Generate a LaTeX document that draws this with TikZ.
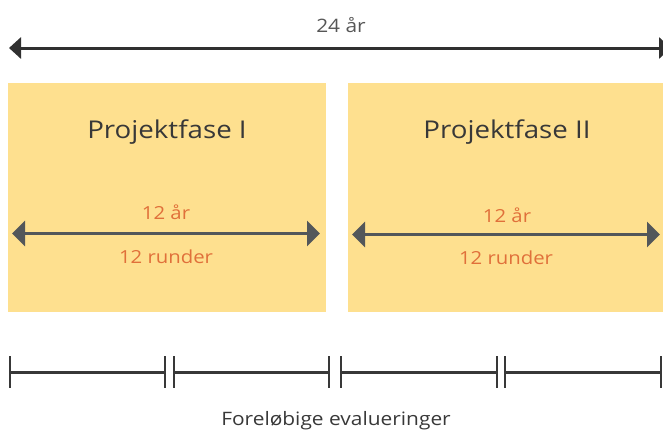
\documentclass[tikz,border=0pt]{standalone}
\usepackage{fontspec}
\setmainfont{Open Sans}[FakeStretch=1.13]
\usetikzlibrary{arrows.meta}
\definecolor{boxfill}{HTML}{FEE08F}
\definecolor{orangetxt}{HTML}{E0703A}
\definecolor{darktxt}{HTML}{383838}
\definecolor{arrowgray}{HTML}{53575A}
\definecolor{topgray}{HTML}{303030}
\tikzset{
  phasebox/.style={fill=boxfill,draw=none,minimum width=318pt,minimum height=229pt,inner sep=0pt,anchor=north west},
  phasetitle/.style={font=\fontsize{24.5}{28}\selectfont,text=darktxt,anchor=base,inner sep=0pt},
  orangelabel/.style={font=\fontsize{18}{22}\selectfont,text=orangetxt,anchor=base,inner sep=0pt},
  toplabel/.style={font=\fontsize{18.5}{24}\selectfont,text=darktxt!85,anchor=base,inner sep=0pt},
  spanarrow/.style={line width=3pt,draw=arrowgray,{Triangle[length=13pt,width=25pt]}-{Triangle[length=13pt,width=25pt]}},
  toparrow/.style={line width=3pt,draw=topgray,{Triangle[length=12pt,width=21pt]}-{Triangle[length=12pt,width=21pt]}},
  segline/.style={line width=2.7pt,draw=darktxt},
  tickline/.style={line width=2.5pt,draw=darktxt},
}
\begin{document}
\begin{tikzpicture}[x=1pt,y=-1pt]
\useasboundingbox (0,0) rectangle (663,429);
% top arrow
\coordinate (tl) at (9,48);
\coordinate (tr) at (671,48);
\draw[toparrow] (tl) -- (tr);
\node[toplabel] (toplbl) at (341,32) {24 år};
% boxes
\node[phasebox] (box1) at (8,83) {};
\node[phasebox] (box2) at (348,83) {};
\node[phasetitle] (t1) at (167,138) {Projektfase I};
\node[phasetitle] (t2) at (507,138) {Projektfase II};
% inner arrows
\coordinate (a1l) at (12,233.5);
\coordinate (a1r) at (320,233.5);
\draw[spanarrow] (a1l) -- (a1r);
\coordinate (a2l) at (352,234.5);
\coordinate (a2r) at (660,234.5);
\draw[spanarrow] (a2l) -- (a2r);
\node[orangelabel] (y1) at (166,219) {12 år};
\node[orangelabel] (r1) at (166,263) {12 runder};
\node[orangelabel] (y2) at (507,222) {12 år};
\node[orangelabel] (r2) at (506,264) {12 runder};
% bottom segments
\foreach \a/\b [count=\i] in {10/165,174/329,341/497,505/661}{
  \coordinate (s\i a) at (\a,372.7);
  \coordinate (s\i b) at (\b,372.7);
  \draw[segline] (s\i a) -- (s\i b);
  \draw[tickline] (\a,356) -- (\a,388);
  \draw[tickline] (\b,356) -- (\b,388);
}
\node[toplabel,text=darktxt] (eval) at (336,425) {Foreløbige evalueringer};
\end{tikzpicture}
\end{document}
